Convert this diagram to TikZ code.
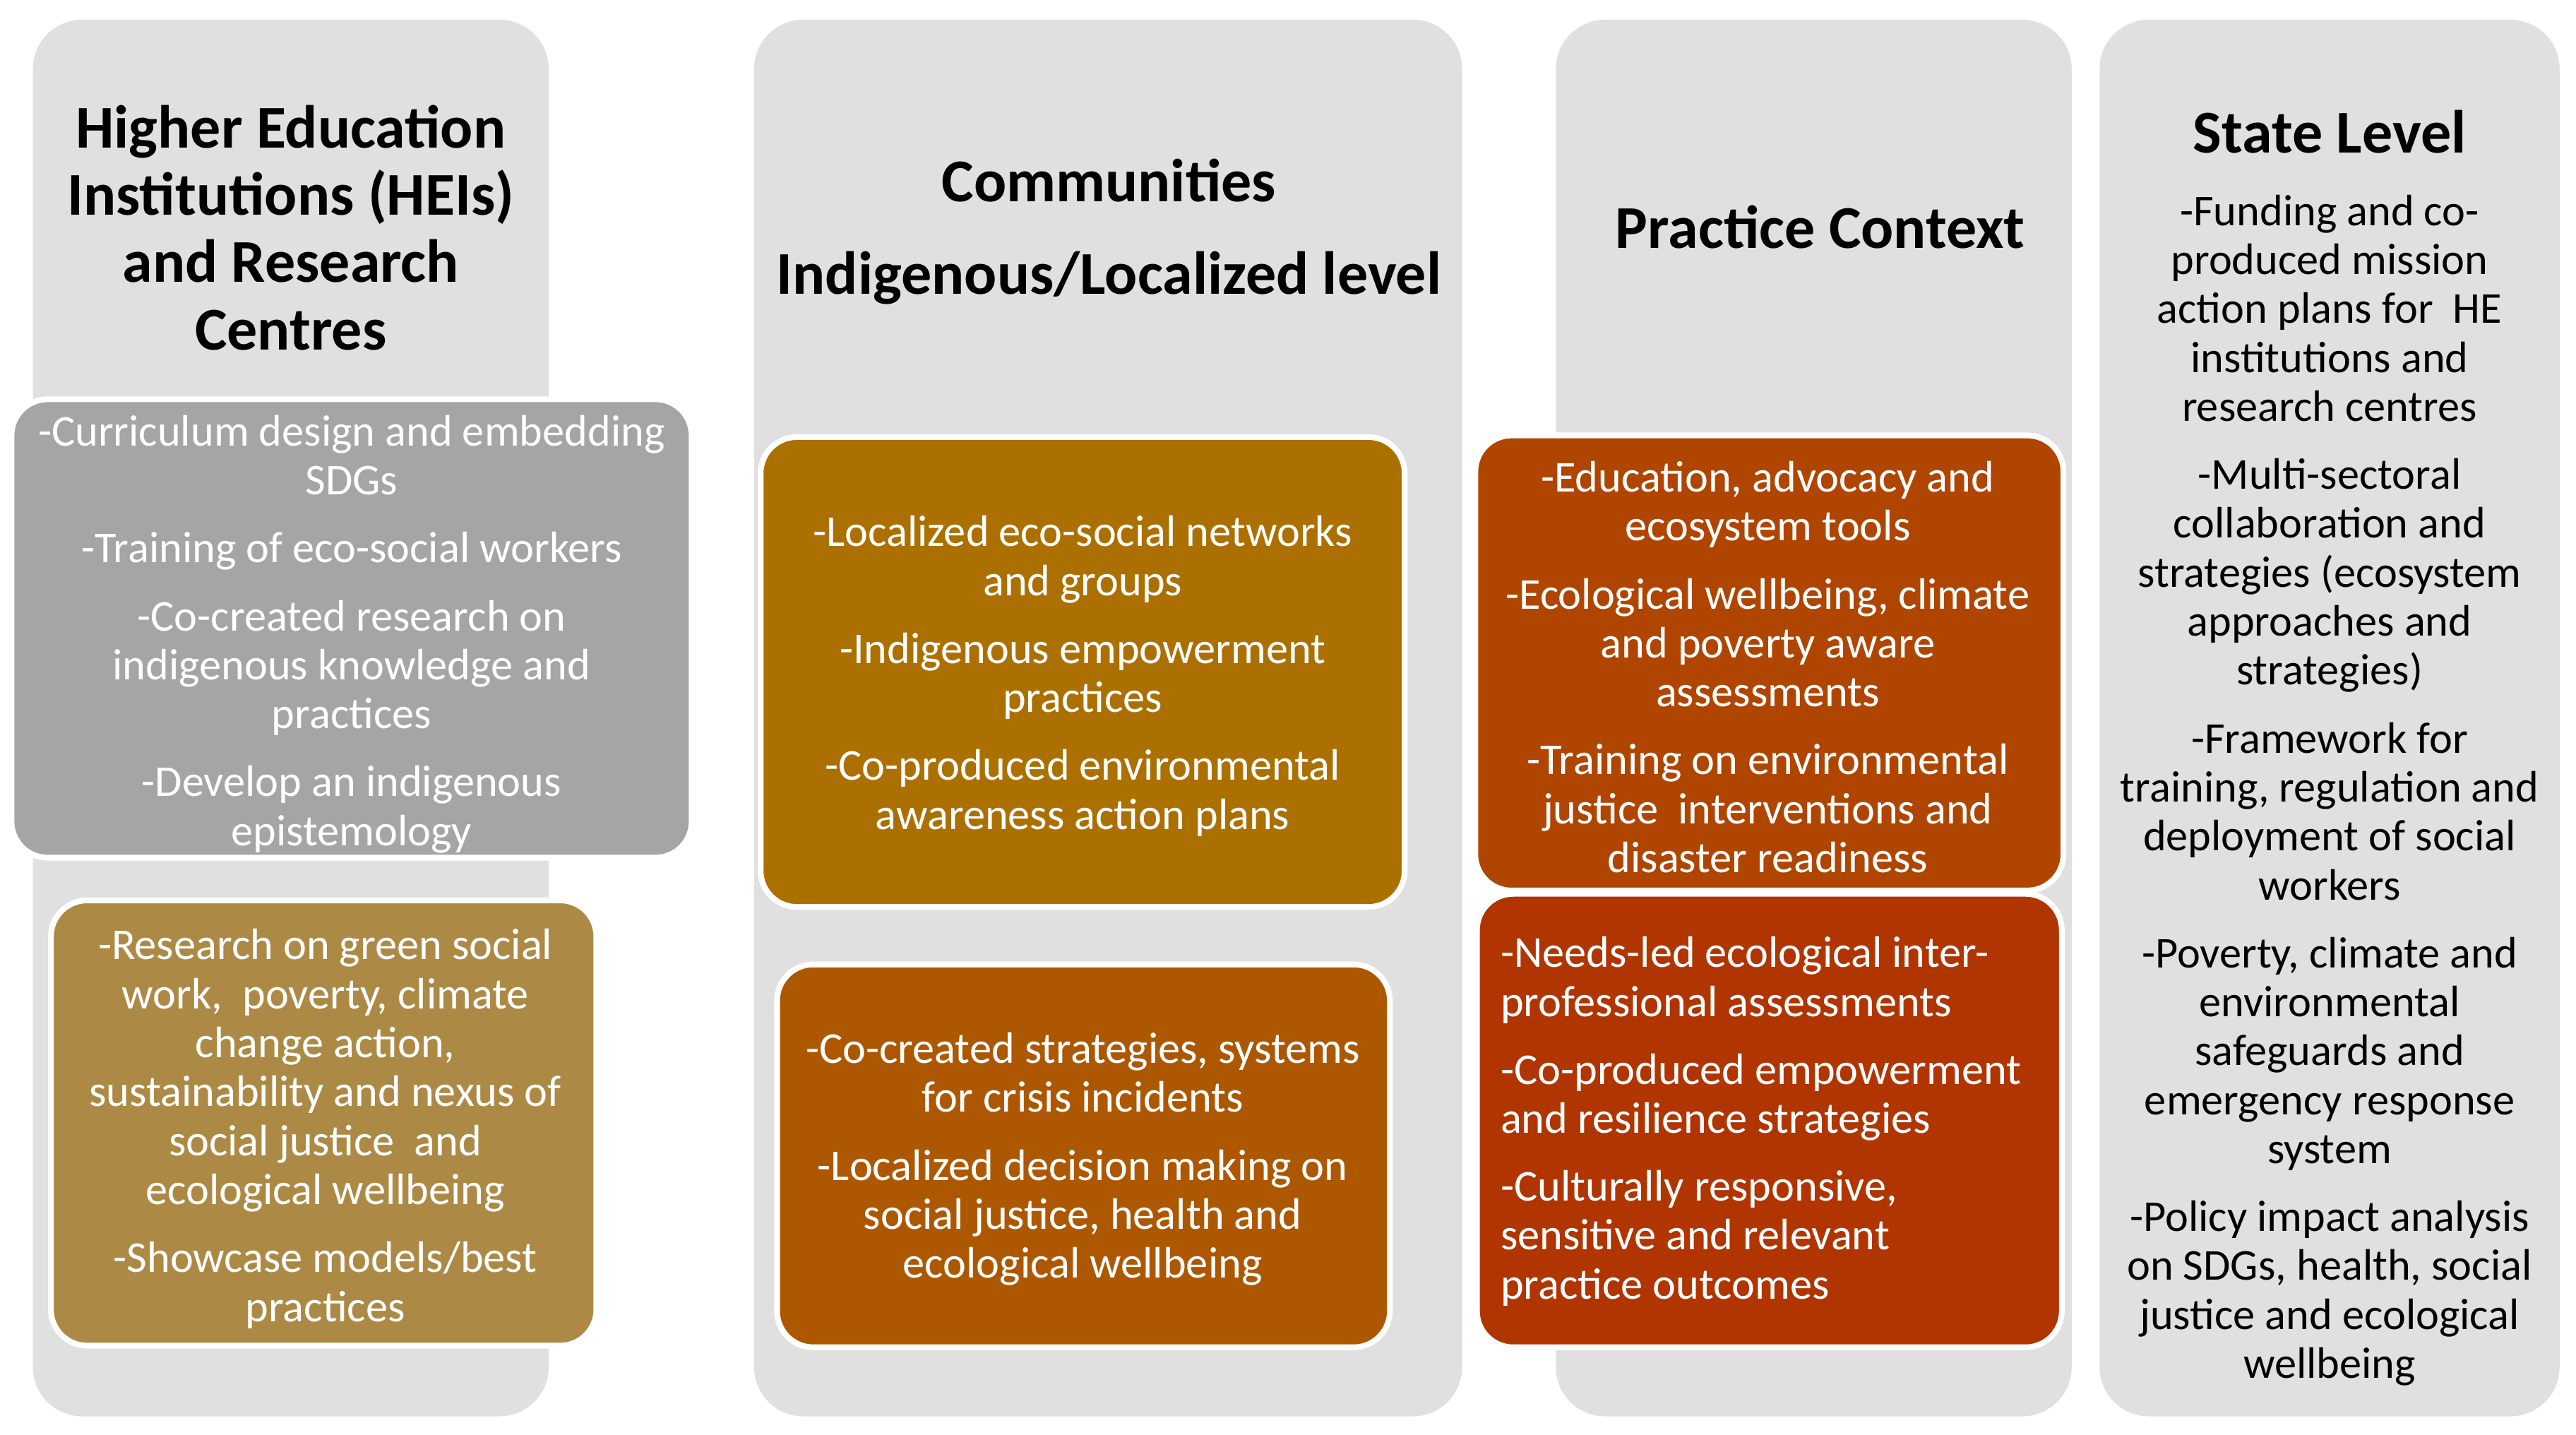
\documentclass[tikz,border=0pt]{standalone}
\usepackage{fontspec}
\setmainfont{Carlito}
\definecolor{bgGray}{HTML}{E0E0E0}
\definecolor{boxGray}{HTML}{A5A5A5}
\definecolor{boxGold}{HTML}{AC8A46}
\definecolor{boxAmber}{HTML}{AB7000}
\definecolor{boxOchre}{HTML}{AD5800}
\definecolor{boxRust}{HTML}{B04500}
\definecolor{boxRed}{HTML}{B03500}
\begin{document}
\begin{tikzpicture}[x=0.5pt,y=-0.5pt,
  colbg/.style={fill=bgGray, rounded corners=15pt},
  ibox/.style={draw=white, line width=1.75pt, rounded corners=11pt},
  body/.style={text=white, font=\fontsize{13.4}{14.9}\selectfont, align=center, inner sep=0pt},
  blackbody/.style={body, text=black},
  ttl/.style={font=\fontsize{18.5}{20.5}\selectfont\bfseries, align=center, inner sep=0pt}]
\useasboundingbox (0,0) rectangle (1568,873);
\fill[white] (0,0) rectangle (1568,873);
% column backgrounds
\path[colbg] (20,12) rectangle (334,862);
\path[colbg] (459,12) rectangle (890,862);
\path[colbg] (947,12) rectangle (1261,862);
\path[colbg] (1278,12) rectangle (1558,862);
% inner boxes
\path[ibox, fill=boxGray] (7,243) rectangle (421,522);
\path[ibox, fill=boxGold] (31,548) rectangle (363,819);
\path[ibox, fill=boxAmber] (463,266) rectangle (855,552);
\path[ibox, fill=boxOchre] (473,587) rectangle (846,820);
\path[ibox, fill=boxRust] (898,265) rectangle (1256,542);
\path[ibox, fill=boxRed] (899,544) rectangle (1255,820);
% column 1
\node[ttl] (t1) at (177,138.5) {Higher Education\\Institutions (HEIs)\\and Research\\Centres};
\node[body] (g1) at (214,386) {-Curriculum design and embedding\\SDGs\\[5.75pt]
-Training of eco-social workers\\[5.75pt]
-Co-created research on\\indigenous knowledge and\\practices\\[5.75pt]
-Develop an indigenous\\epistemology};
\node[body] (g2) at (198,687) {-Research on green social\\work,\ \ poverty, climate\\change action,\\sustainability and nexus of\\social justice\ \ and\\ecological wellbeing\\[5.75pt]
-Showcase models/best\\practices};
% column 2
\node[ttl] (t2) at (675,141) {Communities\\[7.5pt]Indigenous/Localized level};
\node[body] (a1) at (659,411.5) {-Localized eco-social networks\\and groups\\[5.75pt]
-Indigenous empowerment\\practices\\[5.75pt]
-Co-produced environmental\\awareness action plans};
\node[body] (b1) at (659,705.5) {-Co-created strategies, systems\\for crisis incidents\\[5.75pt]
-Localized decision making on\\social justice, health and\\ecological wellbeing};
% column 3
\node[ttl] (t3) at (1108,138) {Practice Context};
\node[body] (c1) at (1076,406) {-Education, advocacy and\\ecosystem tools\\[5.75pt]
-Ecological wellbeing, climate\\and poverty aware\\assessments\\[5.75pt]
-Training on environmental\\justice\ \ interventions and\\disaster readiness};
\node[body, align=left, anchor=west] (d1) at (913,682.5) {-Needs-led ecological inter-\\professional assessments\\[5.75pt]
-Co-produced empowerment\\and resilience strategies\\[5.75pt]
-Culturally responsive,\\sensitive and relevant\\practice outcomes};
% column 4
\node[ttl] (t4) at (1418,80) {State Level};
\node[blackbody] (s1) at (1418,481) {-Funding and co-\\produced mission\\action plans for\ \ HE\\institutions and\\research centres\\[5.75pt]
-Multi-sectoral\\collaboration and\\strategies (ecosystem\\approaches and\\strategies)\\[5.75pt]
-Framework for\\training, regulation and\\deployment of social\\workers\\[5.75pt]
-Poverty, climate and\\environmental\\safeguards and\\emergency response\\system\\[5.75pt]
-Policy impact analysis\\on SDGs, health, social\\justice and ecological\\wellbeing};
\end{tikzpicture}
\end{document}
